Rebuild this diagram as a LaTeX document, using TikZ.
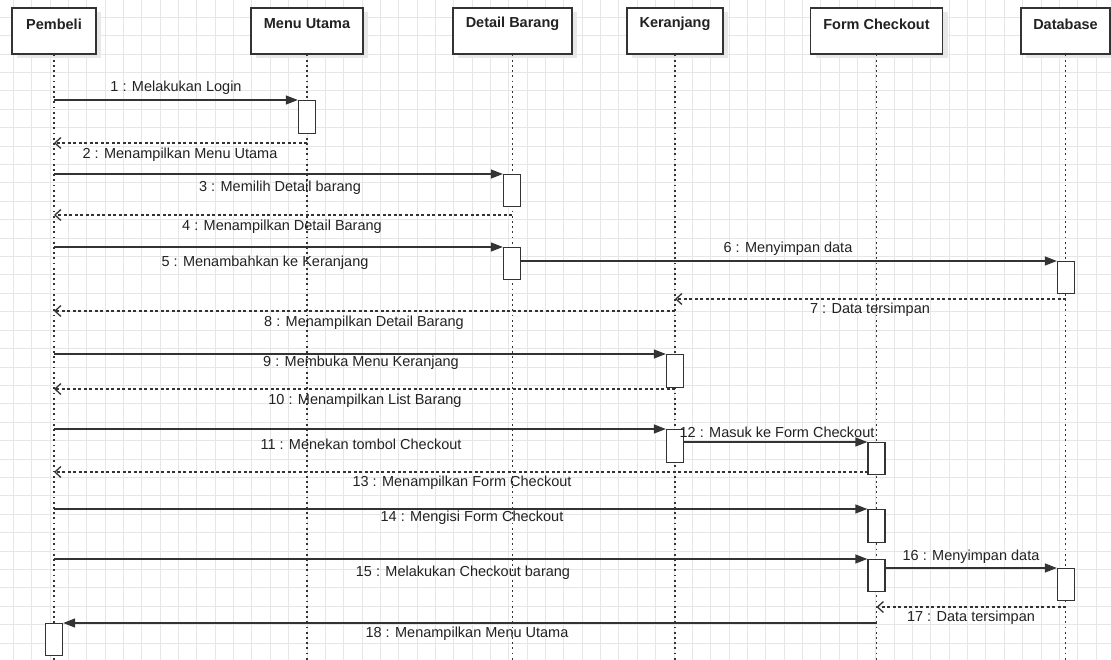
\documentclass[tikz,border=0pt]{standalone}
\usepackage{fontspec}
\setmainfont{Liberation Sans}
\usetikzlibrary{arrows.meta,shadows}
\definecolor{ink}{HTML}{333333}
\definecolor{textink}{HTML}{222222}
\definecolor{gridc}{HTML}{E6E6E6}
\definecolor{shade}{HTML}{E8E8E8}

\tikzset{
  gridline/.style={draw=gridc, line width=0.8pt},
  actor/.style={draw=ink, line width=1.3pt, fill=white, minimum height=46pt, inner sep=0pt,
    general shadow={shadow xshift=5pt, shadow yshift=-4pt, fill=shade}},
  actortext/.style={font=\fontsize{14.5}{16}\selectfont\bfseries, text=textink, inner sep=0pt},
  lifeline/.style={draw=ink, line width=1.4pt, dash pattern=on 1.8pt off 3.4pt},
  act/.style={draw=ink, line width=1.3pt, fill=white, minimum width=17pt, minimum height=32pt,
    inner sep=0pt, anchor=north},
  call/.style={draw=ink, line width=1.3pt, -{Triangle[length=12pt,width=9pt]}},
  reply/.style={draw=ink, line width=1.3pt, dash pattern=on 3pt off 2.5pt,
    -{Straight Barb[length=6pt,width=11pt]}},
  lbl/.style={font=\fontsize{14.5}{16}\selectfont, text=textink, inner sep=0pt},
}

\begin{document}
\begin{tikzpicture}[x=1pt,y=-1pt]
\useasboundingbox (0,0) rectangle (1111,660);
\fill[white] (0,0) rectangle (1111,660);

% background grid
\foreach \i in {0,...,60}
  \draw[gridline] ({13.3+18.35*\i},0) -- ++(0,660);
\foreach \j in {1,...,36}
  \draw[gridline] (0,{-1.1+18.4*\j}) -- ++(1111,0);

% participants
\node[actor, minimum width=84pt]  (pembeli)  at (54,31)    {};
\node[actor, minimum width=112pt] (menu)     at (307,31)   {};
\node[actor, minimum width=119pt] (detail)   at (512.5,31) {};
\node[actor, minimum width=96pt]  (keranjang) at (675,31)  {};
\node[actor, minimum width=132pt] (checkout) at (876.5,31) {};
\node[actor, minimum width=89pt]  (database) at (1065.5,31) {};

\node[actortext] (pembeli-t)   at (54,24)     {Pembeli};
\node[actortext] (menu-t)      at (307,24)    {Menu Utama};
\node[actortext] (detail-t)    at (512.5,24)  {Detail Barang};
\node[actortext] (keranjang-t) at (675,24)    {Keranjang};
\node[actortext] (checkout-t)  at (876.5,24)  {Form Checkout};
\node[actortext] (database-t)  at (1065.5,24) {Database};

% lifelines
\foreach \p in {pembeli,menu,detail,keranjang,checkout,database}
  \draw[lifeline] (\p.south) -- ++(0,606);

% activation bars
\node[act, minimum height=33pt] (a1) at (307,100) {};
\node[act] (a3)  at (512,174)   {};
\node[act] (a5)  at (512,247)   {};
\node[act] (a6)  at (1066,261)  {};
\node[act, minimum height=33pt] (a9)  at (675,354)   {};
\node[act, minimum height=33pt] (a11) at (675,429)   {};
\node[act] (a12) at (876.5,442) {};
\node[act, minimum height=33pt] (a14) at (876.5,509) {};
\node[act] (a15) at (876.5,559) {};
\node[act] (a16) at (1066,568)  {};
\node[act] (a18) at (54,623)    {};

% reply start points
\coordinate (r2)  at (307,143);
\coordinate (r4)  at (512,215);
\coordinate (r7)  at (1066,299);
\coordinate (r8)  at (675,311);
\coordinate (r10) at (675,389);
\coordinate (r13) at (868,472);
\coordinate (r17) at (1066,607);

% messages
\draw[call]  (pembeli |- a1.north) -- (a1.north west);
\draw[reply] (r2) -- (pembeli |- r2);
\draw[call]  (pembeli |- a3.north) -- (a3.north west);
\draw[reply] (r4) -- (pembeli |- r4);
\draw[call]  (pembeli |- a5.north) -- (a5.north west);
\draw[call]  (a5.east |- a6.north) -- (a6.north west);
\draw[reply] (r7) -- (keranjang |- r7);
\draw[reply] (r8) -- (pembeli |- r8);
\draw[call]  (pembeli |- a9.north) -- (a9.north west);
\draw[reply] (r10) -- (pembeli |- r10);
\draw[call]  (pembeli |- a11.north) -- (a11.north west);
\draw[call]  (a11.east |- a12.north) -- (a12.north west);
\draw[reply] (r13) -- (pembeli |- r13);
\draw[call]  (pembeli |- a14.north) -- (a14.north west);
\draw[call]  (pembeli |- a15.north) -- (a15.north west);
\draw[call]  (a15.east |- a16.north) -- (a16.north west);
\draw[reply] (r17) -- (checkout |- r17);
\draw[call]  (checkout |- a18.north) -- (a18.north east);

% message labels
\node[lbl] (l1)  at (176,88)  {1 : Melakukan Login};
\node[lbl] (l2)  at (180,155) {2 : Menampilkan Menu Utama};
\node[lbl] (l3)  at (280,188) {3 : Memilih Detail barang};
\node[lbl] (l4)  at (282,227) {4 : Menampilkan Detail Barang};
\node[lbl] (l5)  at (265,263) {5 : Menambahkan ke Keranjang};
\node[lbl] (l6)  at (788,249) {6 : Menyimpan data};
\node[lbl] (l7)  at (870,310) {7 : Data tersimpan};
\node[lbl] (l8)  at (364,323) {8 : Menampilkan Detail Barang};
\node[lbl] (l9)  at (361,363) {9 : Membuka Menu Keranjang};
\node[lbl] (l10) at (365,401) {10 : Menampilkan List Barang};
\node[lbl] (l11) at (361,444) {11 : Menekan tombol Checkout};
\node[lbl] (l12) at (777,432) {12 : Masuk ke Form Checkout};
\node[lbl] (l13) at (462,483) {13 : Menampilkan Form Checkout};
\node[lbl] (l14) at (472,518) {14 : Mengisi Form Checkout};
\node[lbl] (l15) at (463,573) {15 : Melakukan Checkout barang};
\node[lbl] (l16) at (971,557) {16 : Menyimpan data};
\node[lbl] (l17) at (971,618) {17 : Data tersimpan};
\node[lbl] (l18) at (467,634) {18 : Menampilkan Menu Utama};
\end{tikzpicture}
\end{document}
